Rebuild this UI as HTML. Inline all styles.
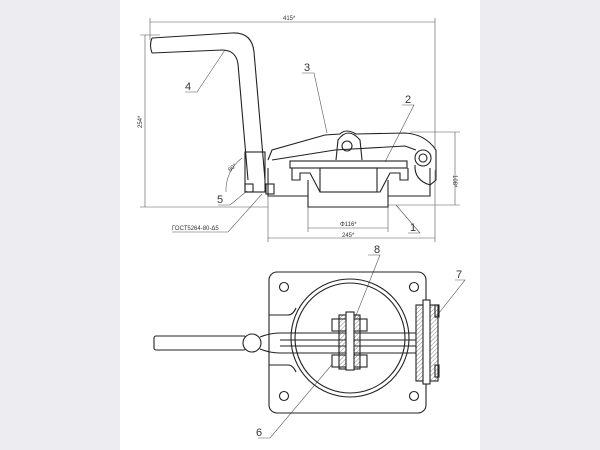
<!DOCTYPE html>
<html><head><style>
html,body{margin:0;padding:0;}
body{width:600px;height:450px;background:#ededf1;position:relative;overflow:hidden;}
svg{position:absolute;left:0;top:0;}
text{font-family:"Liberation Sans",sans-serif;fill:#333;}
</style></head><body>
<svg width="600" height="450" viewBox="0 0 600 450">
<defs>
<pattern id="h" width="3" height="3" patternUnits="userSpaceOnUse" patternTransform="rotate(45)">
<line x1="0" y1="0" x2="0" y2="3" stroke="#666" stroke-width="0.8"/></pattern>
</defs>
<rect x="120" y="0" width="360" height="450" fill="#fff"/>
<g fill="none" stroke="#222" stroke-width="1.1">
<g stroke="#555" stroke-width="0.6">
<line x1="150" y1="22" x2="435" y2="22"/><line x1="150" y1="18" x2="150" y2="40"/><line x1="435" y1="18" x2="435" y2="150"/>
<line x1="145" y1="35" x2="145" y2="207"/><line x1="140" y1="35" x2="160" y2="35"/><line x1="140" y1="207" x2="268" y2="207"/>
<line x1="455" y1="132" x2="455" y2="205"/><line x1="410" y1="132" x2="460" y2="132"/><line x1="388" y1="205" x2="460" y2="205"/>
<line x1="308" y1="228" x2="388" y2="228"/><line x1="308" y1="207" x2="308" y2="232"/><line x1="388" y1="207" x2="388" y2="232"/>
<line x1="268" y1="238" x2="435" y2="238"/><line x1="268" y1="196" x2="268" y2="242"/><line x1="435" y1="170" x2="435" y2="242"/>
<path d="M226,192 A40,40 0 0 1 242,158"/>
<path d="M185,92 L197,92 L225,50"/>
<path d="M302,73 L314,73 L327,133"/>
<path d="M402,105 L414,105 L385,162"/>
<path d="M408,233 L420,233 L396,205"/>
<path d="M218,205 L230,205 L247,191"/>
<path d="M172,232 L228,232 L262,194"/>
<path d="M368,255 L380,255 L355,318"/>
<path d="M455,280 L465,280 L435,318"/>
<path d="M258,438 L270,438 L340,355"/>
</g>
<path d="M152,38 L232,33 Q252,32 254,52 L265,180"/>
<path d="M152,53 L222,50 Q236,50 238,64 L248,180"/>
<path d="M152,38 Q149,45 152,53"/>
<rect x="245" y="152" width="20" height="40"/>
<rect x="245" y="184" width="8" height="8"/><rect x="266" y="184" width="8" height="10"/>
<path d="M268,168 L268,196 L308,196 L308,207 L388,207 L388,196 L430,196 L430,168"/>
<rect x="290" y="161" width="117" height="7"/>
<path d="M292,168 L292,180 L300,180 L300,173 L310,173 L320,192 L380,192 L390,173 L400,173 L400,180 L408,180 L408,168"/>
<rect x="320" y="168" width="57" height="24"/>
<line x1="308" y1="196" x2="308" y2="180"/><line x1="388" y1="196" x2="388" y2="180"/>
<path d="M268,160 L272,150 L325,135 L340,134 Q346,128 356,134 L405,133 Q425,134 436,150"/>
<path d="M272,160 L335,150 L405,146 L416,150"/>
<path d="M336,160 L338,140 Q348,126 360,140 L362,160"/>
<circle cx="347" cy="146" r="5"/>
<circle cx="423" cy="158" r="8"/><circle cx="423" cy="158" r="4"/>
<path d="M415,165 Q414,180 430,185 L436,180 L436,150"/>
<!-- bottom view -->
<rect x="269" y="272" width="157" height="141" rx="8"/>
<path d="M269,315 L288,315 Q293,315 296,308"/>
<path d="M269,365 L288,365 Q293,365 296,372"/>
<circle cx="284" cy="287" r="4.5"/><circle cx="414" cy="287" r="4.5"/>
<circle cx="284" cy="396" r="4.5"/><circle cx="414" cy="396" r="4.5"/>
<circle cx="350" cy="338" r="59"/><circle cx="350" cy="338" r="55"/>
<rect x="154" y="336" width="92" height="14" rx="2"/>
<path d="M260,337 Q270,333 280,333 L416,333 M260,349 Q270,353 280,353 L416,353 M280,340 L416,340 M280,346 L416,346"/>
<circle cx="252" cy="343" r="9" fill="#fff"/>
<rect x="332" y="319" width="35" height="12" fill="#fff"/>
<rect x="332" y="355" width="35" height="12" fill="#fff"/>
<rect x="339" y="315" width="21" height="54" fill="url(#h)"/>
<rect x="346" y="312" width="8" height="58" fill="#fff"/>
<rect x="416" y="305" width="22" height="76" fill="url(#h)"/>
<rect x="423" y="300" width="7" height="84" fill="#fff"/>
<rect x="435" y="305" width="4" height="12"/><rect x="435" y="365" width="4" height="12"/>
</g>
<g font-size="6">
<text x="283" y="20">415*</text>
<text x="340" y="226">Φ116*</text>
<text x="342" y="237">245*</text>
<text transform="translate(142,128) rotate(-90)">254*</text>
<text transform="translate(453,175) rotate(90)">108*</text>
<text x="172" y="230">ГОСТ5264-80-Δ5</text>
<text x="230" y="172" transform="rotate(-40 230 172)">80°</text>
</g>
<g font-size="11">
<text x="185" y="90">4</text><text x="304" y="71">3</text><text x="405" y="103">2</text>
<text x="410" y="231">1</text><text x="217" y="203">5</text>
<text x="374" y="253">8</text><text x="456" y="278">7</text><text x="256" y="436">6</text>
</g>
</svg>
</body></html>
